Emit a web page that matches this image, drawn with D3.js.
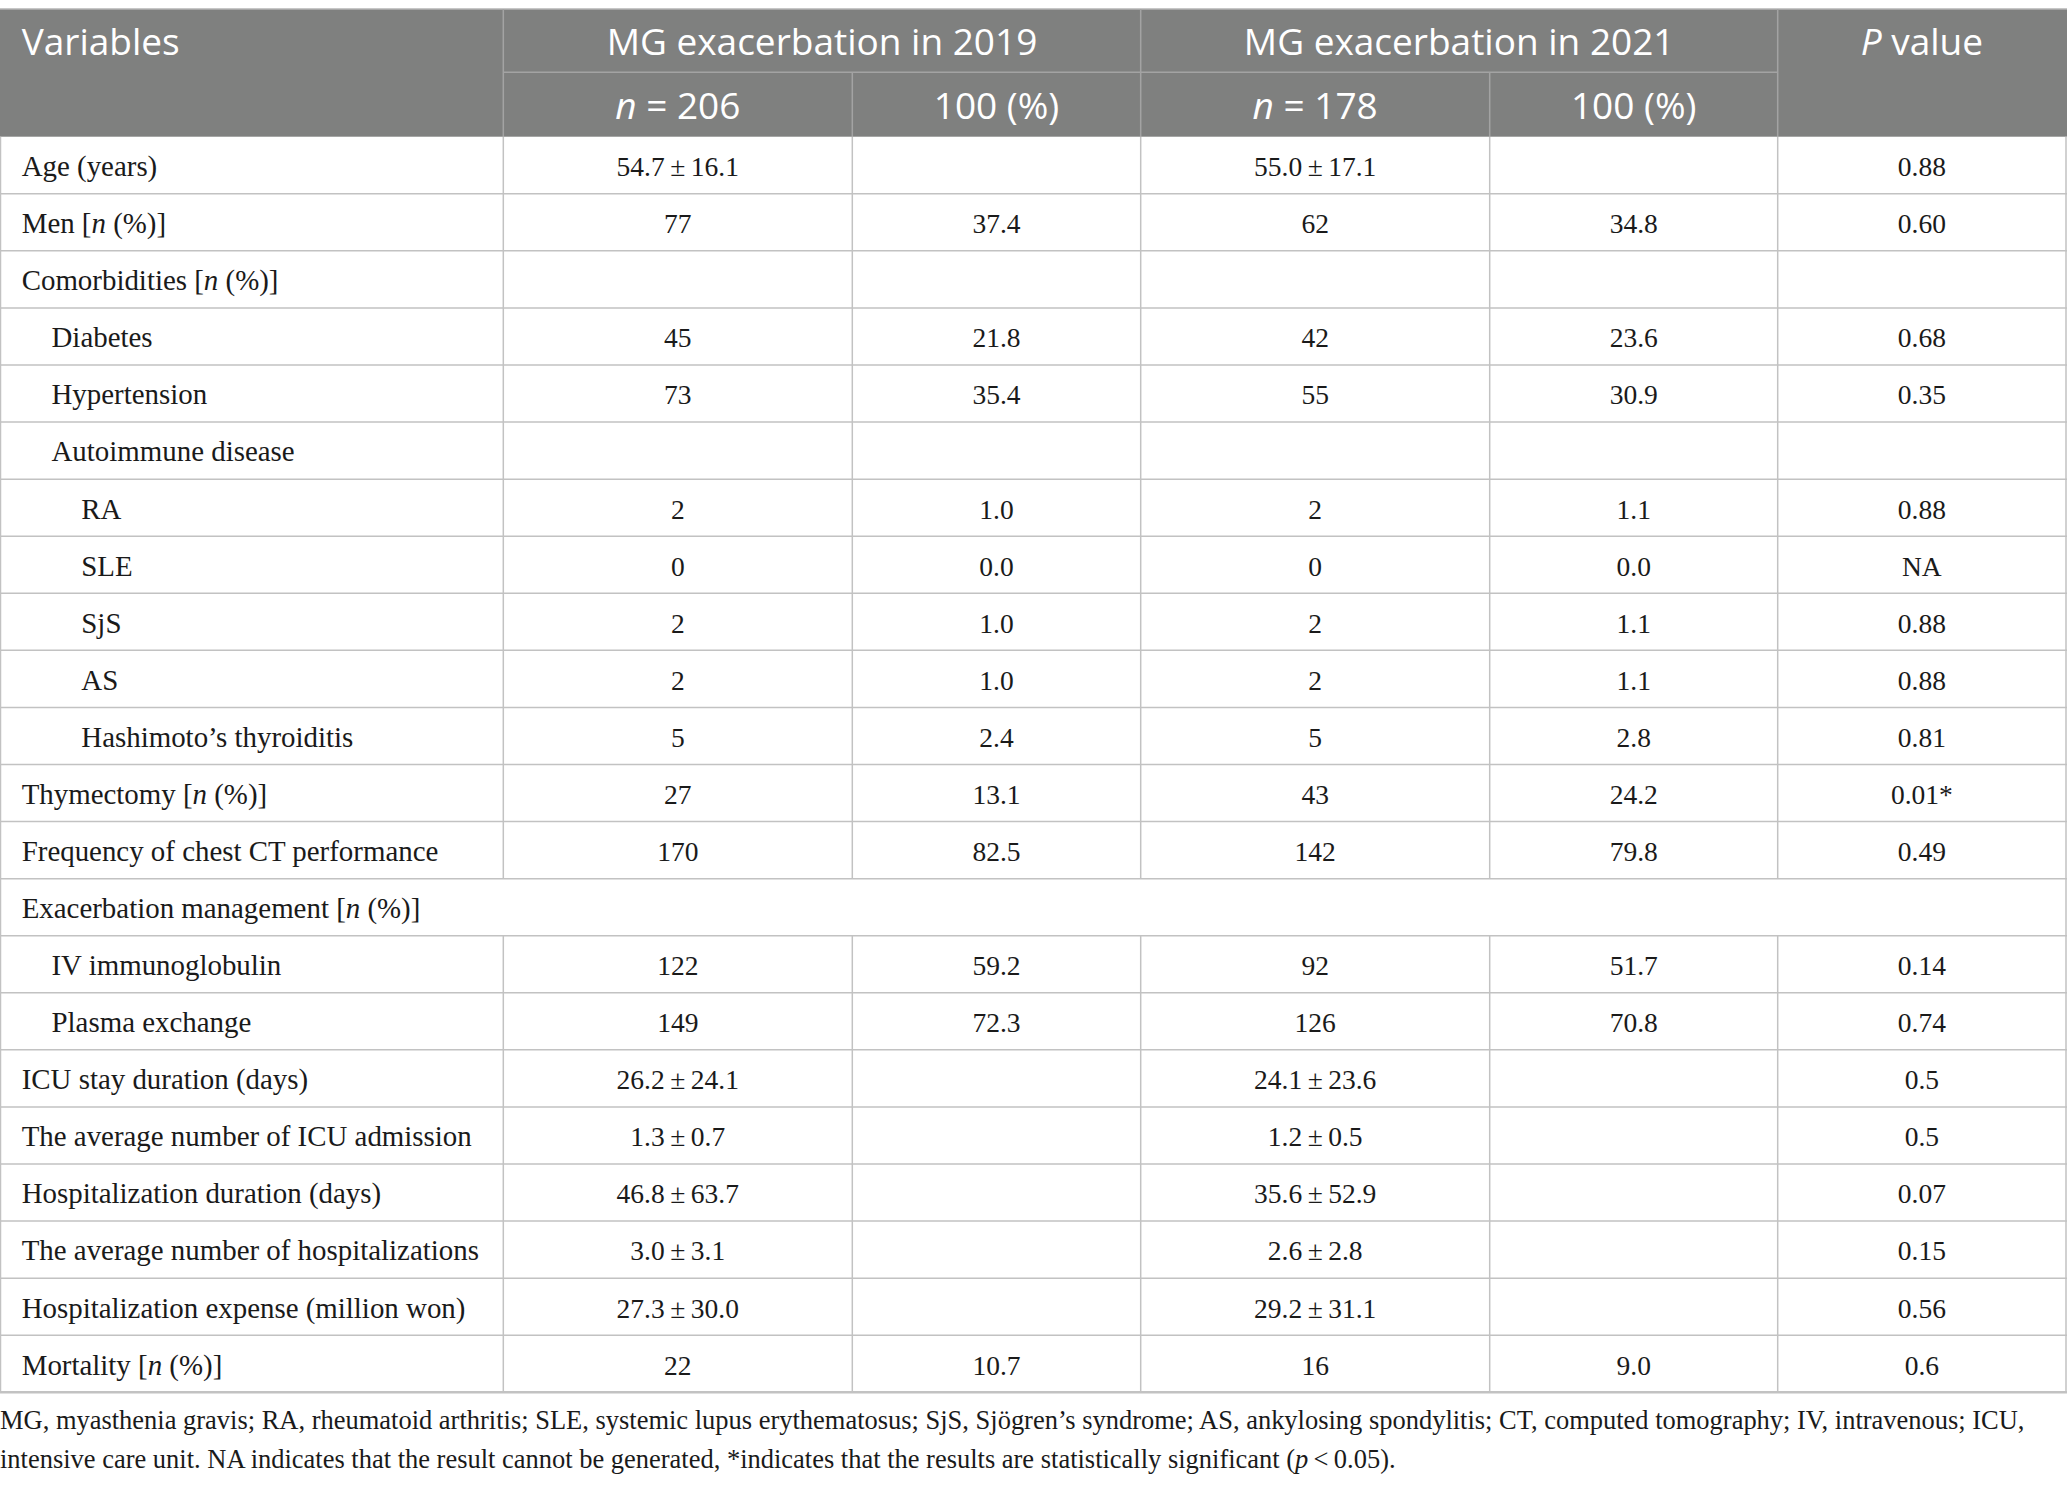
<!DOCTYPE html>
<html>
<head>
<meta charset="utf-8">
<script src="https://cdn.jsdelivr.net/npm/d3@7"></script>
<style>
  html, body { margin: 0; padding: 0; background: #fff; }
  svg { display: block; }
</style>
</head>
<body>
<svg id="chart" width="2067" height="1488"></svg>
<script>
// table content
var labels = [
  "Age (years)", "Men [_n_ (%)]", "Comorbidities [_n_ (%)]", "Diabetes", "Hypertension",
  "Autoimmune disease", "RA", "SLE", "SjS", "AS", "Hashimoto\u2019s thyroiditis",
  "Thymectomy [_n_ (%)]", "Frequency of chest CT performance", "Exacerbation management [_n_ (%)]",
  "IV immunoglobulin", "Plasma exchange", "ICU stay duration (days)",
  "The average number of ICU admission", "Hospitalization duration (days)",
  "The average number of hospitalizations", "Hospitalization expense (million won)", "Mortality [_n_ (%)]"
]
var indentLevel = [0, 0, 0, 1, 1, 1, 2, 2, 2, 2, 2, 0, 0, 0, 1, 1, 0, 0, 0, 0, 0, 0]
var spanRow = [13]   // rows with no inner column lines

var n2019 = ["54.7\u2009\u00b1\u200916.1", "77", "", "45", "73", "", "2", "0", "2", "2", "5", "27", "170", "",
  "122", "149", "26.2\u2009\u00b1\u200924.1", "1.3\u2009\u00b1\u20090.7", "46.8\u2009\u00b1\u200963.7",
  "3.0\u2009\u00b1\u20093.1", "27.3\u2009\u00b1\u200930.0", "22"]
var pct2019 = ["", "37.4", "", "21.8", "35.4", "", "1.0", "0.0", "1.0", "1.0", "2.4", "13.1", "82.5", "",
  "59.2", "72.3", "", "", "", "", "", "10.7"]
var n2021 = ["55.0\u2009\u00b1\u200917.1", "62", "", "42", "55", "", "2", "0", "2", "2", "5", "43", "142", "",
  "92", "126", "24.1\u2009\u00b1\u200923.6", "1.2\u2009\u00b1\u20090.5", "35.6\u2009\u00b1\u200952.9",
  "2.6\u2009\u00b1\u20092.8", "29.2\u2009\u00b1\u200931.1", "16"]
var pct2021 = ["", "34.8", "", "23.6", "30.9", "", "1.1", "0.0", "1.1", "1.1", "2.8", "24.2", "79.8", "",
  "51.7", "70.8", "", "", "", "", "", "9.0"]
var pValue = ["0.88", "0.60", "", "0.68", "0.35", "", "0.88", "NA", "0.88", "0.88", "0.81", "0.01*", "0.49", "",
  "0.14", "0.74", "0.5", "0.5", "0.07", "0.15", "0.56", "0.6"]

var groupHeads = ["MG exacerbation in 2019", "MG exacerbation in 2021"]
var subHeads = ["_n_ = 206", "100 (%)", "_n_ = 178", "100 (%)"]

var footnote = [
  "MG, myasthenia gravis; RA, rheumatoid arthritis; SLE, systemic lupus erythematosus; SjS, Sj\u00f6gren\u2019s syndrome; AS, ankylosing spondylitis; CT, computed tomography; IV, intravenous; ICU,",
  "intensive care unit. NA indicates that the result cannot be generated, *indicates that the results are statistically significant (_p_\u2009<\u20090.05)."
]

// layout
var colEdges = [0.5, 503.3, 852.3, 1140.7, 1489.7, 1777.7, 2066]
var headTop = 9, headMid = 72.3, headBot = 136.7, tableBot = 1392.3
var headBg = "#7f807f", headLine = "#a3a3a3", gridLine = "#c2c2c2"
var sansFont = "'Open Sans', 'Noto Sans', sans-serif"
var serifFont = "'Liberation Serif', 'Times New Roman', serif"

var svg = d3.select("#chart")

var y = d3.scaleBand().domain(d3.range(labels.length)).range([headBot, tableBot])
var colCenter = function(i) { return (colEdges[i] + colEdges[i + 1]) / 2 }

// text with _italic_ parts
function rich(sel, str) {
  str.split("_").forEach(function(part, i) {
    if (part === "") return
    sel.append("tspan").attr("font-style", i % 2 ? "italic" : null).text(part)
  })
}

// header background
svg.append("rect")
  .attr("x", 0).attr("y", headTop)
  .attr("width", 2067).attr("height", headBot - headTop)
  .attr("fill", headBg)

svg.append("line")
  .attr("x1", 0).attr("x2", 2067).attr("y1", headTop).attr("y2", headTop)
  .attr("stroke", "#b4b4b4").attr("stroke-width", 1.5)

// header inner lines
var hl = svg.append("g").attr("stroke", headLine).attr("stroke-width", 1.5)
hl.append("line").attr("x1", colEdges[1]).attr("x2", colEdges[5]).attr("y1", headMid).attr("y2", headMid)
;[1, 3, 5].forEach(function(c) {
  hl.append("line").attr("x1", colEdges[c]).attr("x2", colEdges[c]).attr("y1", headTop).attr("y2", headBot)
})
;[2, 4].forEach(function(c) {
  hl.append("line").attr("x1", colEdges[c]).attr("x2", colEdges[c]).attr("y1", headMid).attr("y2", headBot)
})

// header texts
var head = svg.append("g").attr("fill", "#fff").attr("font-family", sansFont).attr("font-size", 37)
head.append("text").attr("x", 21.7).attr("y", 55).text("Variables")
groupHeads.forEach(function(t, i) {
  head.append("text").attr("x", (colEdges[1 + 2 * i] + colEdges[3 + 2 * i]) / 2).attr("y", 55)
    .attr("text-anchor", "middle").text(t)
})
head.append("text").attr("x", colCenter(5)).attr("y", 55).attr("text-anchor", "middle")
  .call(rich, "_P_ value")
subHeads.forEach(function(t, i) {
  head.append("text").attr("x", colCenter(i + 1)).attr("y", 119.3).attr("text-anchor", "middle")
    .call(rich, t)
})

// body grid
var grid = svg.append("g").attr("stroke", gridLine).attr("stroke-width", 1.5)
grid.selectAll("line.row")
  .data(d3.range(labels.length))
  .enter().append("line")
  .attr("class", "row")
  .attr("x1", 0).attr("x2", 2067)
  .attr("y1", function(d) { return y(d) + y.bandwidth() })
  .attr("y2", function(d) { return y(d) + y.bandwidth() })
  .attr("stroke-width", function(d) { return d === labels.length - 1 ? 2.5 : 1.5 })

var cells = []
labels.forEach(function(l, r) {
  colEdges.forEach(function(x, c) {
    var outer = c === 0 || c === colEdges.length - 1
    if (outer || spanRow.indexOf(r) < 0) cells.push({ r: r, x: x })
  })
})
grid.selectAll("line.col")
  .data(cells)
  .enter().append("line")
  .attr("class", "col")
  .attr("x1", function(d) { return d.x }).attr("x2", function(d) { return d.x })
  .attr("y1", function(d) { return y(d.r) }).attr("y2", function(d) { return y(d.r) + y.bandwidth() })

// row labels
svg.append("g")
  .attr("font-family", serifFont).attr("font-size", 28.9).attr("fill", "#1a1a1a")
  .selectAll("text")
  .data(labels)
  .enter().append("text")
  .attr("x", function(d, i) { return 21.7 + indentLevel[i] * 29.8 })
  .attr("y", function(d, i) { return y(i) + 39.4 })
  .each(function(d) { rich(d3.select(this), d) })

// values
var valueCols = [n2019, pct2019, n2021, pct2021, pValue]
var vals = svg.append("g")
  .attr("font-family", serifFont).attr("font-size", 27.5).attr("fill", "#1a1a1a")
  .attr("text-anchor", "middle")
valueCols.forEach(function(col, c) {
  vals.append("g").selectAll("text")
    .data(col)
    .enter().append("text")
    .attr("x", colCenter(c + 1))
    .attr("y", function(d, i) { return y(i) + 39.4 })
    .text(function(d) { return d })
})

// footnote
var foot = svg.append("g").attr("font-family", serifFont).attr("font-size", 23).attr("fill", "#1a1a1a")
footnote.forEach(function(t, i) {
  foot.append("text").attr("x", 0).attr("y", [1429, 1467.5][i]).call(rich, t)
})
// fit first line to the width it takes in the print
var w = foot.select("text").node().getComputedTextLength()
foot.attr("font-size", 23 * 2026 / w)
</script>
</body>
</html>
